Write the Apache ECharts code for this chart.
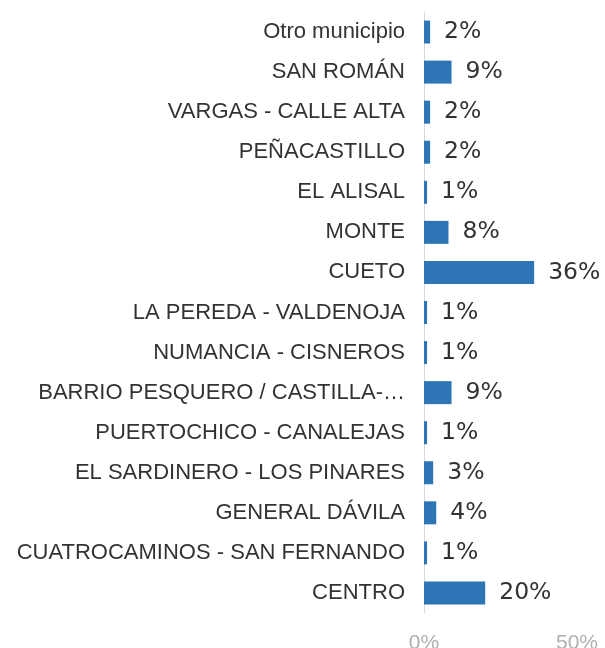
<!DOCTYPE html>
<html>
<head>
<meta charset="utf-8">
<script src="https://cdn.jsdelivr.net/npm/echarts@6/dist/echarts.min.js"></script>
<style>
html, body { margin: 0; padding: 0; background: #fff; }
#main { width: 605px; height: 648px; }
</style>
</head>
<body>
<div id="main"></div>
<script>
// categorias de arriba a abajo
var barrios = ['Otro municipio', 'SAN ROMÁN', 'VARGAS - CALLE ALTA', 'PEÑACASTILLO', 'EL ALISAL',
	'MONTE', 'CUETO', 'LA PEREDA - VALDENOJA', 'NUMANCIA - CISNEROS', 'BARRIO PESQUERO / CASTILLA-…',
	'PUERTOCHICO - CANALEJAS', 'EL SARDINERO - LOS PINARES', 'GENERAL DÁVILA',
	'CUATROCAMINOS - SAN FERNANDO', 'CENTRO'];
var porcentajes = [2, 9, 2, 2, 1, 8, 36, 1, 1, 9, 1, 3, 4, 1, 20];
var ticksX = [0, 50];

var myChart = echarts.init(document.getElementById('main'));

var option = {
	animation: false,
	grid: {
		left: 424,
		right: 28,
		top: 12,
		bottom: 35,
		outerBoundsMode: 'none'
	},
	xAxis: {
		type: 'value',
		min: ticksX[0],
		max: ticksX[1],
		interval: ticksX[1] - ticksX[0],
		axisLine: { show: false },
		axisTick: { show: false },
		splitLine: { show: false },
		axisLabel: {
			margin: 20,
			color: '#b0b0b0',
			fontFamily: 'Liberation Sans',
			fontSize: 21,
			formatter: '{value}%'
		}
	},
	yAxis: {
		type: 'category',
		inverse: true,
		data: barrios,
		axisLine: { show: true, lineStyle: { color: '#d9d9d9', width: 1 } },
		axisTick: { show: false },
		axisLabel: {
			margin: 19,
			color: '#333',
			fontFamily: 'Liberation Sans',
			fontSize: 22
		}
	},
	series: [
		{
			type: 'bar',
			data: porcentajes,
			barWidth: 23,
			itemStyle: { color: '#2e75b6' },
			label: {
				show: true,
				position: 'right',
				distance: 14,
				color: '#333',
				fontFamily: 'DejaVu Sans',
				fontSize: 23.5,
				formatter: '{c}%'
			}
		}
	]
};

myChart.setOption(option);
</script>
</body>
</html>
